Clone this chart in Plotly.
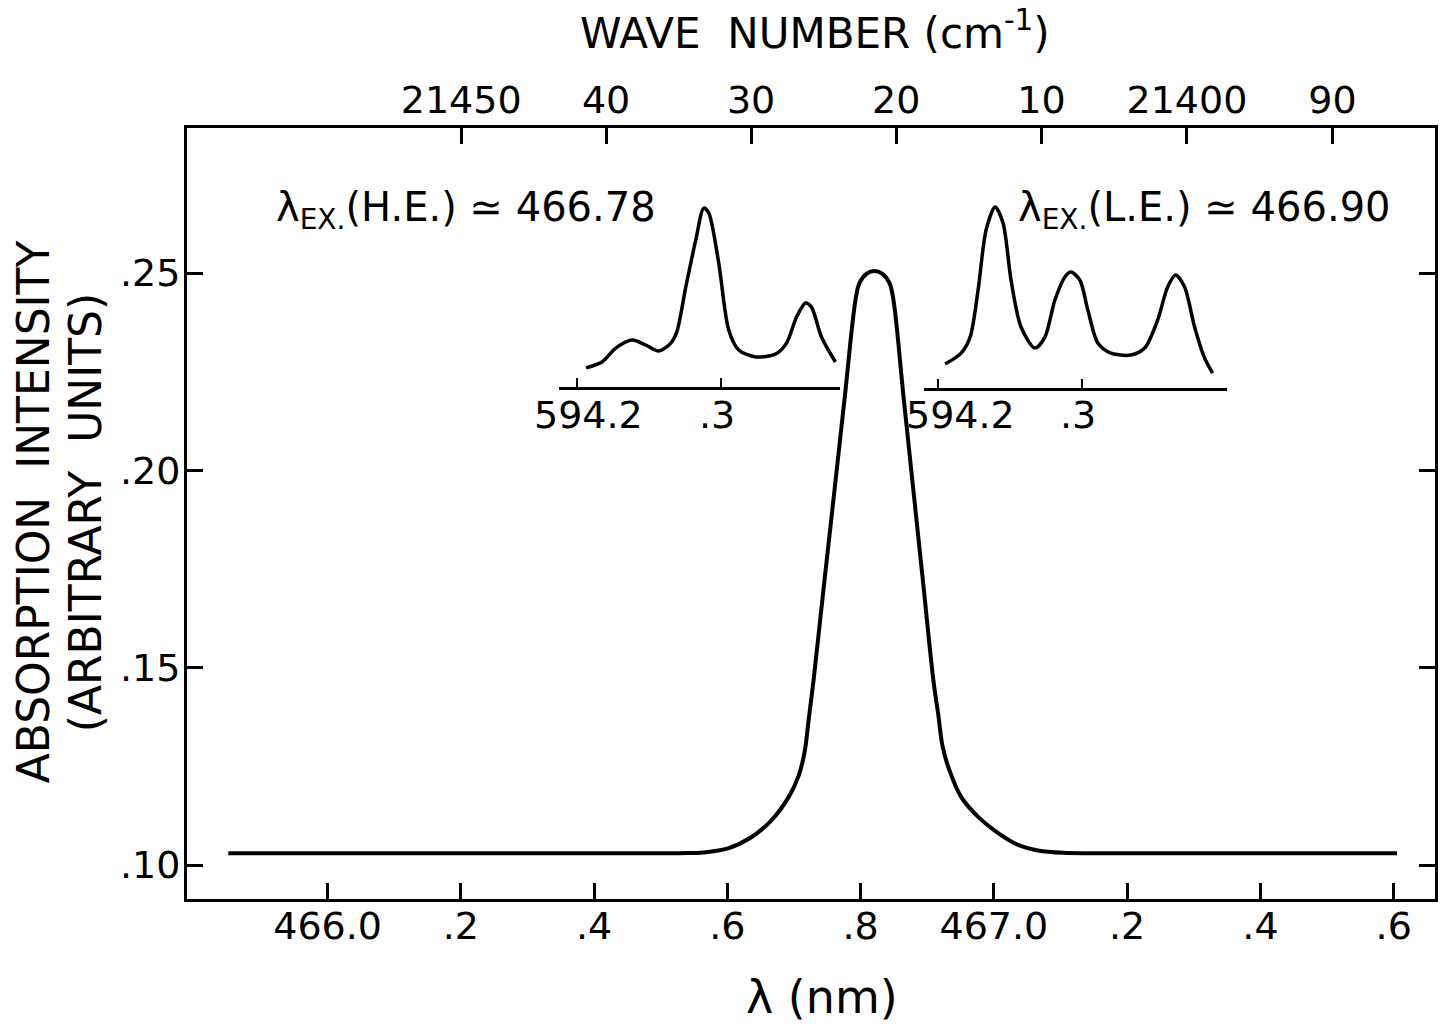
import plotly.graph_objects as go

# ---- main absorption profile (wavelength in nm, intensity in arbitrary units)
lam_nm = [465.851, 466.5273, 466.5647, 466.6021, 466.6365, 466.6665, 466.6919,
          466.7069, 466.7159, 466.7219, 466.7294, 466.745, 466.7608, 466.7765,
          466.7923, 466.7983, 466.8087, 466.8207, 466.8327, 466.8432, 466.8492,
          466.8641, 466.8791, 466.8941, 466.9091, 466.9166, 466.9226, 466.9316,
          466.9510, 466.9764, 467.0064, 467.0363, 467.0662, 467.1037, 467.1560,
          467.605]
absorb = [0.1030, 0.1030, 0.1032, 0.1043, 0.1071, 0.1114, 0.1172,
          0.1226, 0.1286, 0.1367, 0.1469, 0.1710, 0.1950, 0.2191,
          0.2432, 0.2475, 0.2498, 0.2505, 0.2498, 0.2475, 0.2432,
          0.2191, 0.1950, 0.1710, 0.1469, 0.1380, 0.1304, 0.1248,
          0.1172, 0.1122, 0.1081, 0.1051, 0.1037, 0.1031, 0.1030,
          0.1030]

# ---- fluorescence scans around 594.2-594.4 nm for the two excitation lines
he_lam = [594.20625, 594.21736, 594.22708, 594.23819, 594.24792, 594.25694, 594.26528,
          594.26944, 594.27569, 594.28264, 594.28819, 594.29167, 594.29861, 594.30556,
          594.31250, 594.32431, 594.33819, 594.34583, 594.35278, 594.35903, 594.36319,
          594.37014, 594.37986]
he_int = [0.106, 0.139, 0.217, 0.261, 0.233, 0.200, 0.244,
          0.306, 0.556, 0.817, 0.994, 0.967, 0.689, 0.317,
          0.206, 0.167, 0.183, 0.244, 0.389, 0.467, 0.444,
          0.278, 0.139]

le_lam = [594.20486, 594.21597, 594.22222, 594.22778, 594.23333, 594.23958, 594.24514,
          594.25069, 594.25764, 594.26736, 594.27431, 594.28125, 594.28819, 594.29236,
          594.29861, 594.30417, 594.31111, 594.32014, 594.33403, 594.34375, 594.35278,
          594.35972, 594.36528, 594.37153, 594.37847, 594.38542, 594.39097]
le_int = [0.133, 0.194, 0.283, 0.544, 0.878, 1.006, 0.917,
          0.600, 0.339, 0.222, 0.283, 0.489, 0.617, 0.644,
          0.600, 0.433, 0.250, 0.194, 0.183, 0.222, 0.378,
          0.561, 0.628, 0.561, 0.339, 0.167, 0.083]

# ---- tick definitions
lam_ticks = [466.0, 466.2, 466.4, 466.6, 466.8, 467.0, 467.2, 467.4, 467.6]
lam_labels = ["466.0", ".2", ".4", ".6", ".8", "467.0", ".2", ".4", ".6"]
wn_ticks = [21450, 21440, 21430, 21420, 21410, 21400, 21390]
wn_labels = ["21450", "40", "30", "20", "10", "21400", "90"]
int_ticks = [0.10, 0.15, 0.20, 0.25]
int_labels = [".10", ".15", ".20", ".25"]
inset_ticks = [594.2, 594.3]
inset_labels = ["594.2", ".3"]

FONT = "DejaVu Sans"
INK = "black"

# plot-area geometry in pixels (used to place insets and titles)
W, H = 1444, 1030
L, R, T, B = 187, 1438, 128, 899


def fx(px):
    return (px - L) / (R - L)


def fy(py):
    return (B - py) / (B - T)


fig = go.Figure()

fig.add_trace(go.Scatter(x=lam_nm, y=absorb, mode="lines",
                         line=dict(color=INK, width=4, shape="spline", smoothing=1.0),
                         xaxis="x", yaxis="y", hoverinfo="skip"))
fig.add_trace(go.Scatter(x=he_lam, y=he_int, mode="lines",
                         line=dict(color=INK, width=3.5, shape="spline", smoothing=0.8),
                         xaxis="x3", yaxis="y3", hoverinfo="skip"))
fig.add_trace(go.Scatter(x=le_lam, y=le_int, mode="lines",
                         line=dict(color=INK, width=3.5, shape="spline", smoothing=0.8),
                         xaxis="x4", yaxis="y4", hoverinfo="skip"))
# empty trace so the top wavenumber axis is rendered
fig.add_trace(go.Scatter(x=[None], y=[None], xaxis="x2", yaxis="y", hoverinfo="skip"))

tick_font = dict(family=FONT, size=38, color=INK)
x_range = [465.789, 467.662]

inset_axis = dict(showline=True, linecolor=INK, linewidth=2.5, ticks="inside",
                  ticklen=9, tickwidth=2, tickcolor=INK, showgrid=False, zeroline=False,
                  tickvals=inset_ticks, showticklabels=False)

fig.update_layout(
    width=W, height=H,
    margin=dict(l=L, r=W - R, t=T, b=H - B),
    paper_bgcolor="white", plot_bgcolor="white",
    showlegend=False,
    xaxis=dict(range=x_range, tickvals=lam_ticks, ticktext=lam_labels,
               ticks="inside", ticklen=16, tickwidth=2.5, tickcolor=INK,
               showline=True, linecolor=INK, linewidth=3, showgrid=False,
               zeroline=False, tickfont=tick_font, ticklabelstandoff=-9),
    xaxis2=dict(overlaying="x", side="top", anchor="y", range=x_range,
                tickvals=[1e7 / w for w in wn_ticks], ticktext=wn_labels,
                ticks="inside", ticklen=16, tickwidth=2.5, tickcolor=INK,
                showline=True, linecolor=INK, linewidth=3, showgrid=False,
                zeroline=False, tickfont=tick_font, ticklabelstandoff=-3),
    yaxis=dict(range=[0.09139, 0.28674], tickvals=int_ticks, ticktext=int_labels,
               ticks="inside", ticklen=16, tickwidth=2.5, tickcolor=INK,
               showline=True, mirror="ticks", linecolor=INK, linewidth=3,
               showgrid=False, zeroline=False, tickfont=tick_font,
               ticklabelstandoff=-4),
    xaxis3=dict(domain=[fx(560), fx(842)], range=[594.1875, 594.38333],
                anchor="y3", **inset_axis),
    yaxis3=dict(domain=[fy(387), fy(200)], range=[0, 1.0389], anchor="x3",
                visible=False),
    xaxis4=dict(domain=[fx(926), fx(1230)], range=[594.19028, 594.40139],
                anchor="y4", **inset_axis),
    yaxis4=dict(domain=[fy(388), fy(200)], range=[0, 1.0444], anchor="x4",
                visible=False),
)

ann = []
ann.append(dict(text="WAVE  NUMBER (cm<sup>-1</sup>)", x=fx(817), y=fy(30),
                font=dict(family=FONT, size=42, color=INK)))
ann.append(dict(text="λ (nm)", x=fx(824), y=fy(997),
                font=dict(family=FONT, size=46, color=INK)))
ann.append(dict(text="ABSORPTION  INTENSITY", x=fx(33), y=fy(512), textangle=-90,
                font=dict(family=FONT, size=44, color=INK)))
ann.append(dict(text="(ARBITRARY  UNITS)", x=fx(85), y=fy(513), textangle=-90,
                font=dict(family=FONT, size=44, color=INK)))
ann.append(dict(text="λ<sub>EX.</sub>(H.E.) ≃ 466.78", x=fx(467), y=fy(210),
                font=dict(family=FONT, size=40, color=INK)))
ann.append(dict(text="λ<sub>EX.</sub>(L.E.) ≃ 466.90", x=fx(1207), y=fy(210),
                font=dict(family=FONT, size=40, color=INK)))
for a in ann:
    a.update(xref="paper", yref="paper", showarrow=False,
             xanchor="center", yanchor="middle")

# inset tick labels, lettered slightly off-centre from their ticks
label_shift = {("x3", "594.2"): 11, ("x3", ".3"): -4,
               ("x4", "594.2"): 22, ("x4", ".3"): -4}
for ax in ("x3", "x4"):
    for val, txt in zip(inset_ticks, inset_labels):
        ann.append(dict(text=txt, x=val, xref=ax, y=fy(415), yref="paper",
                        xshift=label_shift[(ax, txt)], showarrow=False,
                        xanchor="center", yanchor="middle", font=tick_font))

fig.update_layout(annotations=ann)

fig.write_html("out.html")
